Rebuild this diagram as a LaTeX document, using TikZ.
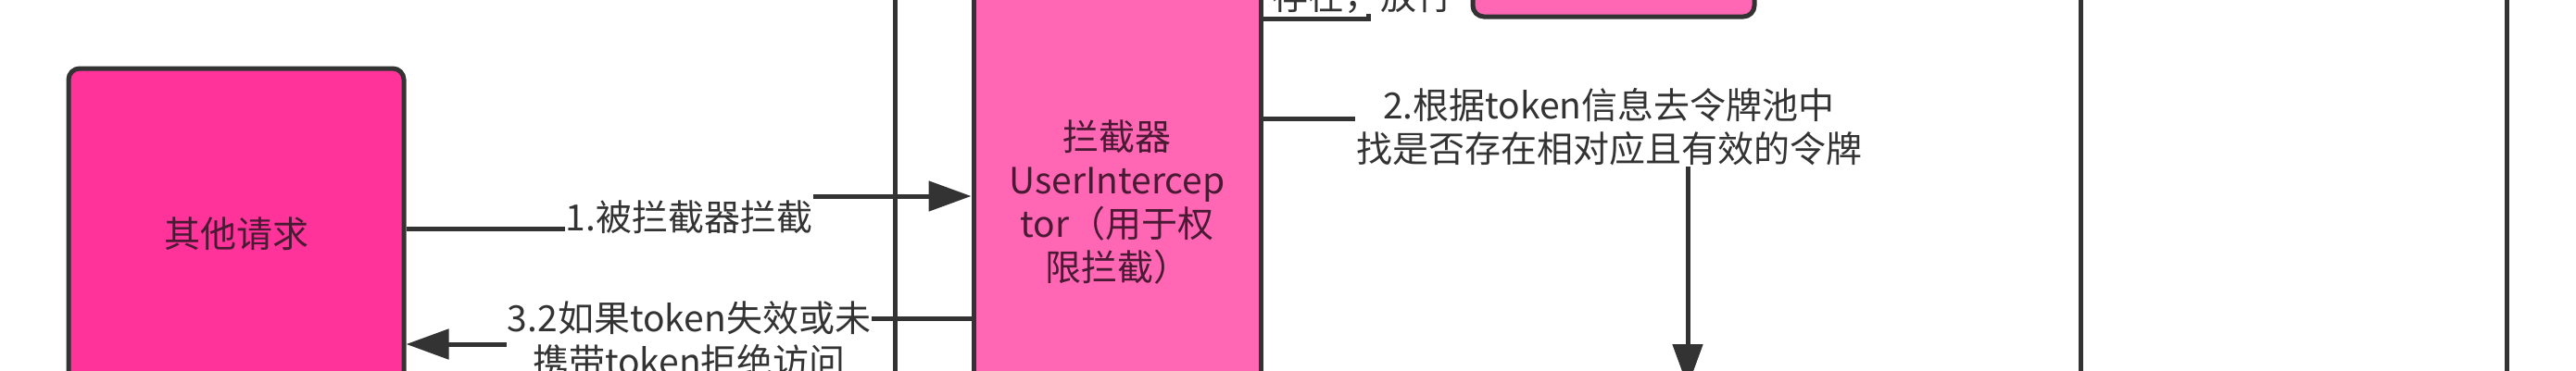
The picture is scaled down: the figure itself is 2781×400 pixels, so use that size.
\documentclass[tikz,border=0pt]{standalone}
\usepackage{fontspec}
\setmainfont{Noto Sans CJK SC}
\usetikzlibrary{arrows.meta}
\definecolor{lc}{HTML}{333333}
\definecolor{hot}{HTML}{FF3399}
\definecolor{pinkb}{HTML}{FF66B3}
\definecolor{boxtext}{HTML}{4A1A35}
\begin{document}
\begin{tikzpicture}[x=1pt,y=-1pt,
  box/.style={draw=lc, line width=5pt, text=boxtext, align=center, inner sep=0pt, font=\fontsize{39}{47}\selectfont},
  edge/.style={draw=lc, line width=5pt},
  arr/.style={edge, -{Triangle[length=46pt,width=32pt]}},
  lbl/.style={fill=white, text=lc, align=center, inner sep=1pt, font=\fontsize{39}{47}\selectfont}]
\fill[white] (0,0) rectangle (2781,400);
\clip (0,0) rectangle (2781,400);
% boxes
\node[box, fill=hot, rounded corners=12pt, minimum width=362pt, minimum height=358pt] (other) at (255,253) {其他请求};
\node[box, fill=pinkb, minimum width=310pt, minimum height=700pt] (inter) at (1206,219) {拦截器\\UserIntercep\\tor（用于权\\限拦截）};
\node[box, fill=pinkb, rounded corners=12pt, minimum width=304pt, minimum height=236pt] (tok) at (1742,-100) {};
% vertical lines
\coordinate (v1t) at (966,-20); \coordinate (v1b) at (966,420);
\coordinate (v2t) at (2246,-20); \coordinate (v2b) at (2246,420);
\coordinate (v3t) at (2706,-20); \coordinate (v3b) at (2706,420);
\draw[edge] (v1t) -- (v1b);
\draw[edge] (v2t) -- (v2b);
\draw[edge] (v3t) -- (v3b);
% edges
\draw[arr] (other.east |- 0,247) -- (744,247) -- (744,212) -- (inter.west |- 0,212);
\draw[arr] (inter.west |- 0,344) -- (744,344) -- (744,372) -- (other.east |- 0,372);
\coordinate (down) at (1822,418);
\draw[arr] (inter.east |- 0,128) -- (1822,128) -- (down);
\coordinate (up) at (1477,-40);
\draw[edge] (inter.east |- 0,20) -- (1477,20) -- (up);
% labels
\node[lbl, inner ysep=8pt] (l1) at (744,235) {1.被拦截器拦截};
\node[lbl] (l2) at (744,367) {3.2如果token失效或未\\携带token拒绝访问};
\node[lbl] (l3) at (1737,137) {2.根据token信息去令牌池中\\找是否存在相对应且有效的令牌};
\node[lbl, anchor=base] (l4) at (1471,10) {存在，放行};
\end{tikzpicture}
\end{document}
